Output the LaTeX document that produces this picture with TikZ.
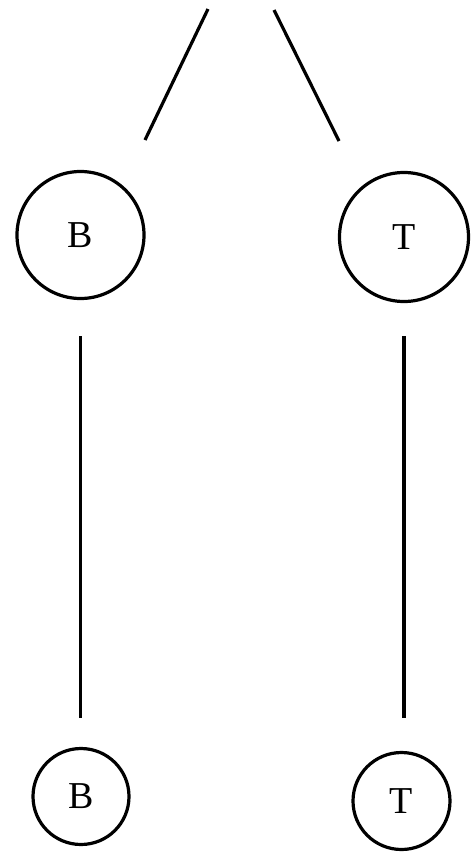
\documentclass[tikz,border=0pt]{standalone}
\usepackage{fontspec}
\setmainfont{Liberation Serif}
\begin{document}
\begin{tikzpicture}[x=1pt,y=-1pt,
  state/.style={circle,draw,line width=3.2pt,inner sep=0pt,
    font=\fontsize{38}{38}\selectfont},
  edge/.style={line width=3.2pt}]
\useasboundingbox (0,0) rectangle (474,857);
% upper pair of states
\node[state,minimum size=127pt] (B1) at (80.5,235) {B};
\node[state,minimum size=129pt] (T1) at (404,237) {T};
% lower pair of states
\node[state,minimum size=96pt] (B2) at (81,796.5) {B};
\node[state,minimum size=97pt] (T2) at (401.5,801) {T};
% branches coming down from above
\coordinate (la) at (208,9);
\coordinate (lb) at (145,140);
\coordinate (ra) at (274,10);
\coordinate (rb) at (339,141);
\draw[edge] (la) -- (lb);
\draw[edge] (ra) -- (rb);
% vertical links between the upper and lower states
\draw[edge,shorten <=36pt,shorten >=29pt] (B1.south) -- (B1.south |- B2.north);
\draw[edge,shorten <=33pt,shorten >=33pt] (T1.south) -- (T1.south |- T2.north);
\end{tikzpicture}
\end{document}
